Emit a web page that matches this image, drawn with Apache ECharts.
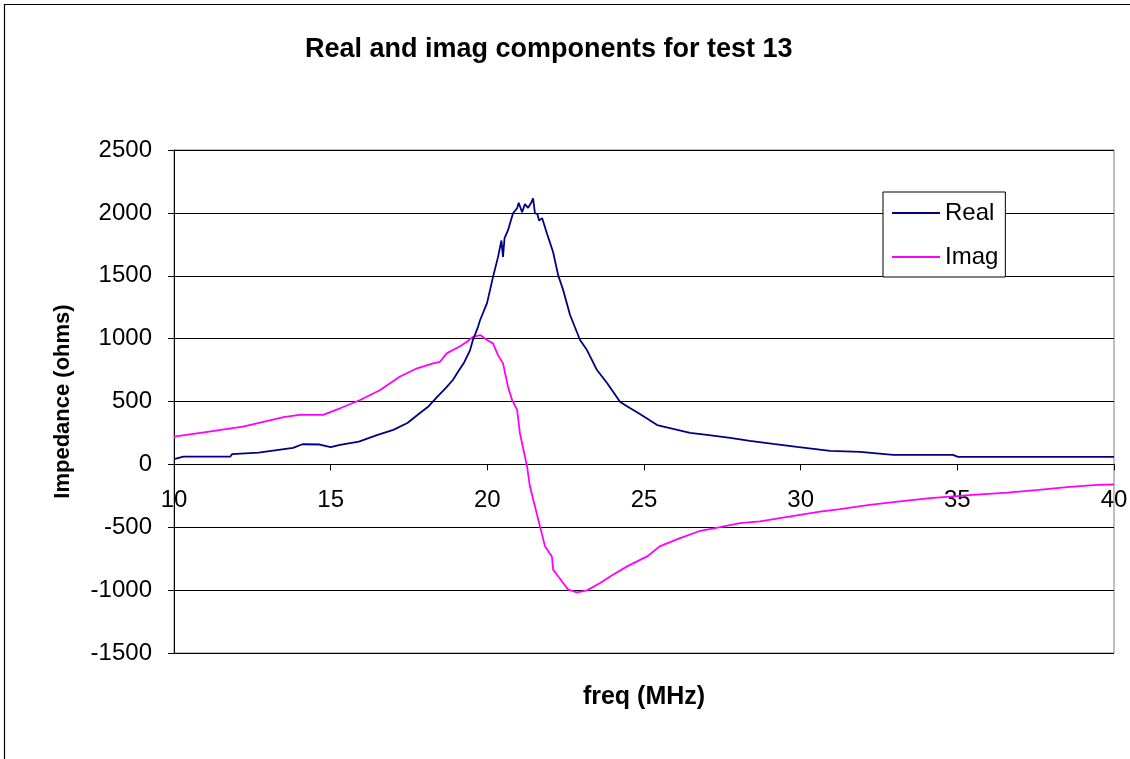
<!DOCTYPE html>
<html>
<head>
<meta charset="utf-8">
<script src="https://cdn.jsdelivr.net/npm/echarts@6/dist/echarts.min.js"></script>
<style>
html,body{margin:0;padding:0;background:#fff;}
#chart{width:1130px;height:759px;}
</style>
</head>
<body>
<div id="chart"></div>
<script>
// Frequency (MHz) and impedance (ohms) samples
const realFreq = [10.0,10.3,11.8,11.85,12.7,13.8,14.1,14.65,15.0,15.3,15.9,16.5,17.0,17.45,17.85,18.1,18.4,18.7,18.9,19.1,19.25,19.45,19.54,19.7,19.77,19.99,20.18,20.34,20.45,20.5,20.55,20.66,20.82,20.95,21.0,21.11,21.2,21.3,21.4,21.46,21.52,21.6,21.65,21.75,21.9,22.1,22.26,22.42,22.64,22.96,23.18,23.5,23.82,24.24,24.55,24.87,25.42,25.93,26.47,27.01,27.75,28.38,29.12,29.88,30.94,31.9,32.95,34.86,35.02,40.0];
const realVal  = [41,62,62,81,94,131,160,158,137,155,181,234,274,329,408,456,536,615,671,750,806,909,989,1092,1148,1282,1489,1648,1780,1650,1800,1862,1997,2037,2080,2005,2070,2040,2080,2116,1997,1990,1940,1957,1838,1687,1505,1386,1188,989,909,750,647,496,448,400,313,282,250,234,210,187,163,139,107,99,75,75,60,60];

const imagFreq = [10.0,10.9,12.2,13.5,14.0,14.76,15.3,15.94,16.58,17.2,17.76,18.27,18.49,18.7,19.13,19.35,19.54,19.77,19.99,20.18,20.34,20.5,20.66,20.79,20.95,21.04,21.2,21.27,21.36,21.52,21.68,21.84,22.06,22.1,22.26,22.42,22.58,22.86,23.18,23.6,24.01,24.46,25.1,25.5,26.15,26.8,27.43,28.07,28.7,29.34,29.98,30.62,31.26,32.2,33.17,34.13,35.5,36.6,37.6,38.5,39.46,40.0];
const imagVal  = [221,253,300,375,393,393,446,512,592,697,764,803,816,883,940,975,1014,1028,989,962,869,803,617,512,433,248,62,-20,-176,-335,-493,-652,-732,-837,-890,-943,-996,-1018,-1002,-943,-877,-811,-732,-652,-586,-528,-499,-467,-454,-427,-401,-375,-356,-322,-295,-268,-242,-224,-202,-181,-163,-160];

const seriesNames = ['Real','Imag'];
const titleText = 'Real and imag components for test 13';
const xName = 'freq (MHz)';
const yName = 'Impedance (ohms)';
const xMin = 10, xMax = 40, xStep = 5;
const yMin = -1500, yMax = 2500, yStep = 500;

const zip = (xs, ys) => xs.map((x, i) => [x, ys[i]]);
const FONT = '"Liberation Sans", Arial, sans-serif';
const LINE_ICON = 'path://M0,0 L48,0 L48,2 L0,2 Z';

const GRID = {left: 174, right: 16, top: 150, bottom: 106};
const plotH = 759 - GRID.top - GRID.bottom;
// move the x axis up to cross the y axis at 0, as in the reference
const xAxisOffset = -plotH * (0 - yMin) / (yMax - yMin);

const chart = echarts.init(document.getElementById('chart'), null, {renderer: 'canvas'});
chart.setOption({
  backgroundColor: '#ffffff',
  animation: false,
  graphic: [{
    type: 'rect', silent: true, z: -10,
    shape: {x: 4.5, y: 4.5, width: 1200, height: 800},
    style: {fill: 'none', stroke: '#000', lineWidth: 1.2}
  }],
  title: {
    text: titleText, left: 300, top: 31,
    textStyle: {fontFamily: FONT, fontSize: 27, fontWeight: 'bold', color: '#000'}
  },
  legend: {
    orient: 'vertical', left: 883, top: 192,
    padding: [9, 7, 8, 9], itemGap: 20, itemWidth: 48, itemHeight: 24,
    symbolKeepAspect: true,
    backgroundColor: '#fff', borderColor: '#000', borderWidth: 1,
    textStyle: {fontFamily: FONT, fontSize: 24, color: '#000'},
    data: seriesNames.map(n => ({name: n, icon: LINE_ICON}))
  },
  grid: Object.assign({
    outerBoundsMode: 'none', containLabel: false,
    show: true, borderColor: '#808080', borderWidth: 1, backgroundColor: '#fff'
  }, GRID),
  xAxis: {
    type: 'value', min: xMin, max: xMax, interval: xStep,
    position: 'bottom', offset: xAxisOffset,
    name: xName, nameLocation: 'middle', nameGap: 220,
    nameTextStyle: {fontFamily: FONT, fontSize: 25, fontWeight: 'bold', color: '#000'},
    axisLine: {show: true, onZero: false, lineStyle: {color: '#000', width: 1}},
    axisTick: {show: true, length: 6, lineStyle: {color: '#000'}},
    axisLabel: {fontFamily: FONT, fontSize: 24, color: '#000', margin: 24, formatter: v => String(v)},
    splitLine: {show: false}
  },
  yAxis: {
    type: 'value', min: yMin, max: yMax, interval: yStep,
    name: yName, nameLocation: 'middle', nameGap: 100,
    nameTextStyle: {fontFamily: FONT, fontSize: 22, fontWeight: 'bold', color: '#000'},
    axisLine: {show: true, onZero: false, lineStyle: {color: '#000', width: 1}},
    axisTick: {show: true, length: 6, lineStyle: {color: '#000'}},
    axisLabel: {fontFamily: FONT, fontSize: 24, color: '#000', margin: 22, formatter: v => String(v)},
    splitLine: {show: true, lineStyle: {color: '#000', width: 1}}
  },
  series: [
    {name: seriesNames[0], type: 'line', data: zip(realFreq, realVal), symbol: 'none',
     lineStyle: {color: '#000080', width: 1.8}, itemStyle: {color: '#000080'}, z: 3},
    {name: seriesNames[1], type: 'line', data: zip(imagFreq, imagVal), symbol: 'none',
     lineStyle: {color: '#ff00ff', width: 1.8}, itemStyle: {color: '#ff00ff'}, z: 2}
  ]
});
</script>
</body>
</html>
